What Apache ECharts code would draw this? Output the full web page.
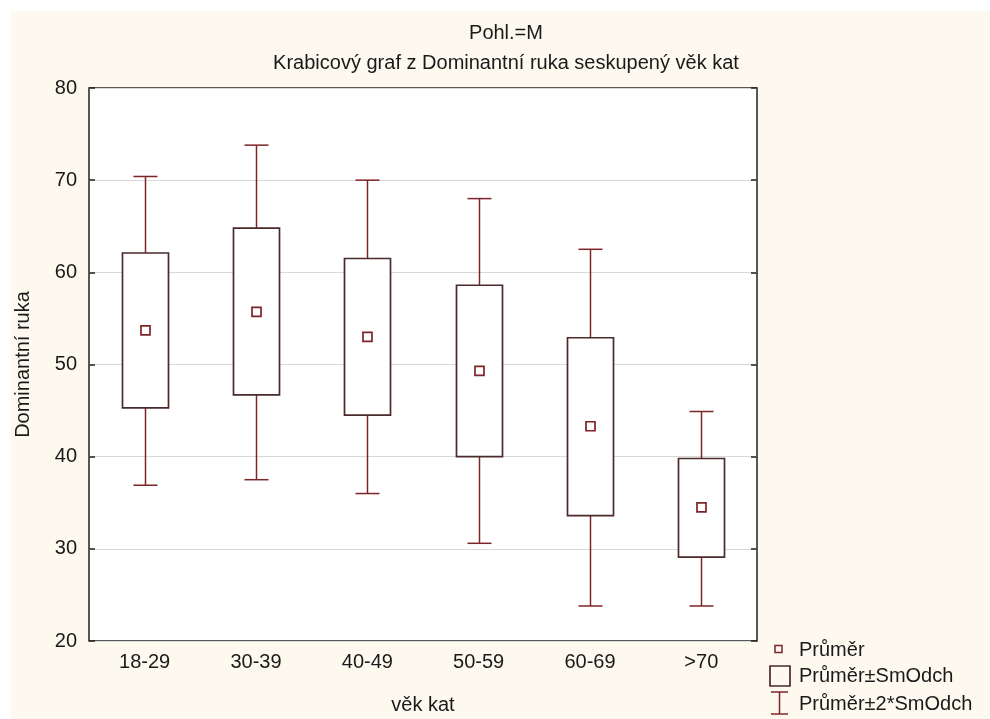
<!DOCTYPE html>
<html>
<head>
<meta charset="utf-8">
<script src="https://cdn.jsdelivr.net/npm/echarts@6/dist/echarts.min.js"></script>
<style>
  html, body { margin: 0; padding: 0; background: #fff; }
  #chart { width: 990px; height: 719px; }
</style>
</head>
<body>
<div id="chart"></div>
<script>
// kategorie a hodnoty
var categories = ['18-29', '30-39', '40-49', '50-59', '60-69', '>70'];
var means = [53.7, 55.7, 53.0, 49.3, 43.3, 34.5];
var sdLow = [45.3, 46.7, 44.5, 40.0, 33.6, 29.1];
var sdHigh = [62.1, 64.8, 61.5, 58.6, 52.9, 39.8];
var sd2Low = [36.9, 37.5, 36.0, 30.6, 23.8, 23.8];
var sd2High = [70.4, 73.8, 70.0, 68.0, 62.5, 44.9];
var yTicks = [20, 30, 40, 50, 60, 70, 80];

var font = '"Liberation Sans", Arial, sans-serif';
var textColor = '#1a1a1a';
var maroon = '#7d2428';
var boxColor = '#4a2a2a';

var chart = echarts.init(document.getElementById('chart'));

function whiskerItem(params, api) {
  var i = api.value(0);
  var top = api.coord([i, api.value(1)]);
  var upper = api.coord([i, api.value(2)]);
  var lower = api.coord([i, api.value(3)]);
  var bottom = api.coord([i, api.value(4)]);
  var x = Math.round(top[0]) + 0.5;
  var cap = 12;
  var st = { stroke: maroon, lineWidth: 1.5 };
  return {
    type: 'group',
    children: [
      { type: 'line', shape: { x1: x, y1: top[1], x2: x, y2: upper[1] }, style: st },
      { type: 'line', shape: { x1: x, y1: lower[1], x2: x, y2: bottom[1] }, style: st },
      { type: 'line', shape: { x1: x - cap, y1: top[1], x2: x + cap, y2: top[1] }, style: st },
      { type: 'line', shape: { x1: x - cap, y1: bottom[1], x2: x + cap, y2: bottom[1] }, style: st }
    ]
  };
}

function boxItem(params, api) {
  var i = api.value(0);
  var hi = api.coord([i, api.value(1)]);
  var lo = api.coord([i, api.value(2)]);
  var half = 23;
  var x = Math.round(hi[0]) + 0.5;
  return {
    type: 'rect',
    shape: { x: x - half, y: hi[1], width: half * 2, height: lo[1] - hi[1] },
    style: { fill: '#fff', stroke: boxColor, lineWidth: 1.7 }
  };
}

function meanItem(params, api) {
  var i = api.value(0);
  var p = api.coord([i, api.value(1)]);
  var x = Math.round(p[0]) + 0.5;
  return {
    type: 'rect',
    shape: { x: x - 4.5, y: p[1] - 4.5, width: 9, height: 9 },
    style: { fill: '#fff', stroke: maroon, lineWidth: 1.7 }
  };
}

var whiskerData = categories.map(function (c, i) { return [i, sd2High[i], sdHigh[i], sdLow[i], sd2Low[i]]; });
var boxData = categories.map(function (c, i) { return [i, sdHigh[i], sdLow[i]]; });
var meanData = categories.map(function (c, i) { return [i, means[i]]; });

var option = {
  backgroundColor: '#fdf9ef',
  animation: false,
  textStyle: { fontFamily: font },
  grid: {
    left: 89, right: 233, top: 88, bottom: 78,
    outerBoundsMode: 'none',
    containLabel: false,
    show: true,
    backgroundColor: '#fff',
    borderColor: '#222',
    borderWidth: 1.5
  },
  xAxis: [
    {
      type: 'category',
      data: categories,
      name: 'věk kat',
      nameLocation: 'middle',
      nameGap: 54,
      nameTextStyle: { fontSize: 20, color: textColor, fontFamily: font },
      axisLine: { show: false },
      axisTick: { inside: true, length: 6, alignWithLabel: true, lineStyle: { color: '#222', width: 1.5 } },
      axisLabel: { fontSize: 20, color: textColor, margin: 11, fontFamily: font },
      splitLine: { show: false }
    },
    {
      type: 'category',
      data: categories,
      position: 'top',
      axisLine: { show: false },
      axisTick: { inside: true, length: 6, alignWithLabel: true, lineStyle: { color: '#222', width: 1.5 } },
      axisLabel: { show: false }
    }
  ],
  yAxis: [
    {
      type: 'value',
      min: yTicks[0],
      max: yTicks[yTicks.length - 1],
      interval: 10,
      name: 'Dominantní ruka',
      nameLocation: 'middle',
      nameGap: 56,
      nameTextStyle: { fontSize: 20, color: textColor, fontFamily: font },
      axisLine: { show: false },
      axisTick: { show: true, inside: true, length: 6, lineStyle: { color: '#222', width: 1.5 } },
      axisLabel: { fontSize: 20, color: textColor, margin: 12, fontFamily: font },
      splitLine: { show: true, lineStyle: { color: '#d8d8d8', width: 1 } }
    },
    {
      type: 'value',
      position: 'right',
      min: yTicks[0],
      max: yTicks[yTicks.length - 1],
      interval: 10,
      axisLine: { show: false },
      axisTick: { show: true, inside: true, length: 6, lineStyle: { color: '#222', width: 1.5 } },
      axisLabel: { show: false },
      splitLine: { show: false }
    }
  ],
  series: [
    {
      name: 'Průměr±2*SmOdch',
      type: 'custom',
      renderItem: whiskerItem,
      encode: { x: 0, y: [1, 2, 3, 4] },
      data: whiskerData,
      z: 2
    },
    {
      name: 'Průměr±SmOdch',
      type: 'custom',
      renderItem: boxItem,
      encode: { x: 0, y: [1, 2] },
      data: boxData,
      z: 3
    },
    {
      name: 'Průměr',
      type: 'custom',
      renderItem: meanItem,
      encode: { x: 0, y: 1 },
      data: meanData,
      z: 4
    }
  ],
  graphic: [
    // bílý okraj nahoře a vlevo
    { type: 'rect', shape: { x: 0, y: 0, width: 990, height: 11 }, style: { fill: '#fff' }, silent: true },
    { type: 'rect', shape: { x: 0, y: 0, width: 11, height: 719 }, style: { fill: '#fff' }, silent: true },
    // titulek
    { type: 'text', x: 506, y: 33, style: { text: 'Pohl.=M', font: '20px ' + font, fill: textColor, align: 'center', verticalAlign: 'middle' } },
    { type: 'text', x: 506, y: 63, style: { text: 'Krabicový graf z Dominantní ruka seskupený věk kat', font: '20px ' + font, fill: textColor, align: 'center', verticalAlign: 'middle' } },
    // legenda
    { type: 'rect', shape: { x: 775, y: 645.5, width: 7, height: 7 }, style: { fill: 'none', stroke: maroon, lineWidth: 1.5 } },
    { type: 'text', x: 799, y: 650, style: { text: 'Průměr', font: '20px ' + font, fill: textColor, verticalAlign: 'middle' } },
    { type: 'rect', shape: { x: 770, y: 666, width: 20, height: 20 }, style: { fill: 'none', stroke: boxColor, lineWidth: 1.7 } },
    { type: 'text', x: 799, y: 676, style: { text: 'Průměr±SmOdch', font: '20px ' + font, fill: textColor, verticalAlign: 'middle' } },
    { type: 'line', shape: { x1: 779.5, y1: 692, x2: 779.5, y2: 714 }, style: { stroke: maroon, lineWidth: 1.5 } },
    { type: 'line', shape: { x1: 771, y1: 692, x2: 788, y2: 692 }, style: { stroke: maroon, lineWidth: 1.5 } },
    { type: 'line', shape: { x1: 771, y1: 714, x2: 788, y2: 714 }, style: { stroke: maroon, lineWidth: 1.5 } },
    { type: 'text', x: 799, y: 704, style: { text: 'Průměr±2*SmOdch', font: '20px ' + font, fill: textColor, verticalAlign: 'middle' } }
  ]
};

chart.setOption(option);
</script>
</body>
</html>
